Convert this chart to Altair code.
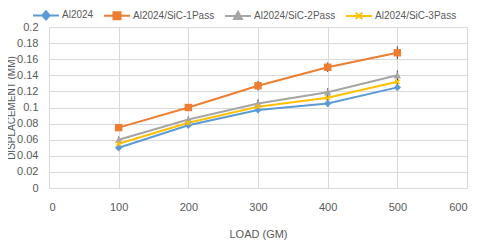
import altair as alt
import pandas as pd

loads = [100, 200, 300, 400, 500]
series_names = ["Al2024", "Al2024/SiC-1Pass", "Al2024/SiC-2Pass", "Al2024/SiC-3Pass"]
al2024 = [0.050, 0.078, 0.097, 0.105, 0.125]
pass1 = [0.075, 0.100, 0.127, 0.150, 0.168]
pass2 = [0.060, 0.085, 0.105, 0.119, 0.140]
pass3 = [0.055, 0.081, 0.101, 0.112, 0.132]
err_al2024 = [0.003, 0.003, 0.003, 0.004, 0.004]
err_pass1 = [0.004, 0.004, 0.006, 0.006, 0.008]
err_pass2 = [0.004, 0.004, 0.005, 0.005, 0.006]
err_pass3 = [0.003, 0.003, 0.003, 0.004, 0.004]
colors = ["#5B9BD5", "#ED7D31", "#A5A5A5", "#FFC000"]
x_ticks = [0, 100, 200, 300, 400, 500, 600]
y_ticks = [0, 0.02, 0.04, 0.06, 0.08, 0.1, 0.12, 0.14, 0.16, 0.18, 0.2]

rows = []
for name, vals, errs in zip(series_names, [al2024, pass1, pass2, pass3],
                            [err_al2024, err_pass1, err_pass2, err_pass3]):
    for l, v, e in zip(loads, vals, errs):
        rows.append({"load": l, "disp": v, "lo": v - e, "hi": v + e, "series": name})
df = pd.DataFrame(rows)

FONT = "Liberation Sans"
GRAY = "#595959"

x_axis = alt.Axis(values=x_ticks, tickCount=20, labelPadding=13, titleY=40,
                  titleFontSize=11)
y_axis = alt.Axis(values=y_ticks, format="~g", tickCount=20,
                  labelPadding=11, labelOverlap=False, titleX=-33,
                  titleFontSize=10)
x_scale = alt.Scale(domain=[0, 600], nice=False)
y_scale = alt.Scale(domain=[0, 0.2], nice=False)
x = alt.X("load:Q", title="LOAD (GM)", scale=x_scale, axis=x_axis)
y = alt.Y("disp:Q", title="DISPLACEMENT (MM)", scale=y_scale, axis=y_axis)

color_scale = alt.Scale(domain=series_names, range=colors)

base = alt.Chart(df)

lines = base.mark_line(strokeWidth=2).encode(
    x=x, y=y,
    stroke=alt.Stroke("series:N", scale=color_scale, title=None),
)

errbars = base.mark_rule(color="#404040", strokeWidth=1).encode(
    x=x, y=alt.Y("lo:Q", title="DISPLACEMENT (MM)", scale=y_scale, axis=y_axis),
    y2="hi:Q"
)

point_shapes = ["diamond", "square", "triangle-up",
                "M-0.6,-0.6L0.6,0.6M-0.6,0.6L0.6,-0.6"]
point_layers = []
for name, shp, col in zip(series_names, point_shapes, colors):
    is_x = shp.startswith("M")
    point_layers.append(
        base.transform_filter(alt.datum.series == name).mark_point(
            shape=shp, filled=not is_x, size=55 if not is_x else 50,
            color=col, strokeWidth=1.5, opacity=1
        ).encode(x=x, y=y)
    )

legend_paths = [
    "M-1,0H1M0,-0.32L0.28,0L0,0.32L-0.28,0Z",
    "M-1,0H1M-0.27,-0.27H0.27V0.27H-0.27Z",
    "M-1,0H1M0,-0.32L0.3,0.24H-0.3Z",
    "M-1,0H1M-0.25,-0.25L0.25,0.25M-0.25,0.25L0.25,-0.25",
]

legend_layer = base.transform_filter("false").mark_point(filled=True, opacity=1).encode(
    x=x, y=y,
    fill=alt.Fill("series:N", scale=color_scale, title=None),
    stroke=alt.Stroke("series:N", scale=color_scale, title=None),
    shape=alt.Shape("series:N",
                    scale=alt.Scale(domain=series_names, range=legend_paths),
                    title=None),
)

chart = alt.layer(lines, errbars, *point_layers, legend_layer).properties(
    width=418, height=161,
    background="white",
    autosize=alt.AutoSizeParams(type="none"),
    padding={"left": 41, "top": 19, "right": 5, "bottom": 56},
).configure_view(stroke=None).configure_axis(
    grid=True, gridColor="#D9D9D9", gridWidth=1,
    domainColor="#D9D9D9", ticks=False, tickSize=0,
    labelFont=FONT, labelFontSize=11, labelColor=GRAY,
    titleFont=FONT, titleFontSize=11, titleColor=GRAY, titleFontWeight="normal",
).configure_legend(
    orient="none", direction="horizontal", legendX=-17, legendY=-26,
    symbolSize=676, symbolStrokeWidth=2,
    labelFont=FONT, labelFontSize=10, labelColor=GRAY,
    labelOffset=2, columnPadding=6,
)

chart.save("out.html", embed_options={"renderer": "svg", "actions": False})
